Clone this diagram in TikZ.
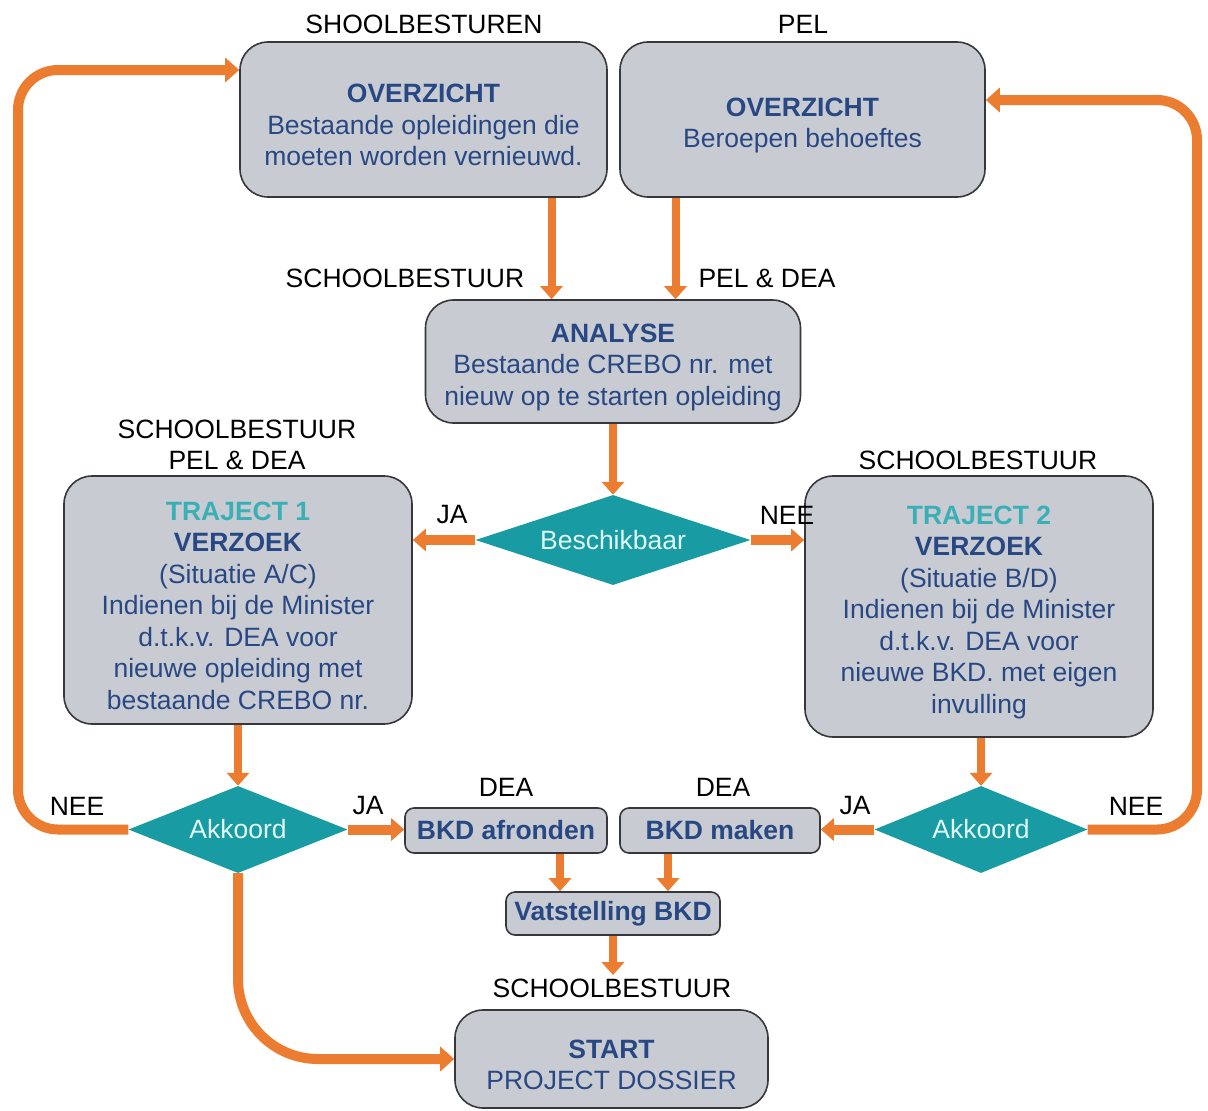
\documentclass[tikz,border=0pt]{standalone}
\usepackage{fontspec}
\setmainfont{Liberation Sans}
\usepackage{tikz}
\usetikzlibrary{arrows.meta,shapes,positioning}
\definecolor{flgrey}{RGB}{201,203,210}
\definecolor{flborder}{RGB}{55,55,60}
\definecolor{flblue}{RGB}{40,72,132}
\definecolor{flteal}{RGB}{58,176,182}
\definecolor{fldiamond}{RGB}{24,155,162}
\definecolor{fldtext}{RGB}{224,247,247}
\definecolor{florange}{RGB}{236,124,48}
\newcommand{\kop}[1]{\rule{0pt}{30pt}\textbf{#1}}
\tikzstyle{box} = [rectangle, rounded corners=28pt, draw=flborder, fill=flgrey, line width=1.6pt, text=flblue, align=center, inner sep=0pt]
\tikzstyle{smallbox} = [rectangle, rounded corners=9pt, draw=flborder, fill=flgrey, line width=1.6pt, text=flblue, inner sep=0pt]
\tikzstyle{decision} = [diamond, shape aspect=3, fill=fldiamond, text=fldtext, inner sep=0pt]
\tikzstyle{arrow} = [line width=8pt, florange, -{Triangle[width=22pt,length=13pt]}]
\tikzstyle{loopline} = [line width=10pt, florange, rounded corners=40pt, -{Triangle[width=24pt,length=14pt]}]

\begin{document}
\begin{tikzpicture}[x=1pt,y=-1pt,font=\fontsize{26.5}{31.5}\selectfont]
\useasboundingbox (0,0) rectangle (1208,1111);

% boxes
\node[box, minimum width=367, minimum height=155] (ovz1) at (423.5,119.5) {\kop{OVERZICHT}\\Bestaande opleidingen die\\moeten worden vernieuwd.};
\node[box, minimum width=365, minimum height=155] (ovz2) at (802.5,119.5) {\kop{OVERZICHT}\\Beroepen behoeftes};
\node[box, minimum width=375, minimum height=123] (ana) at (613,361.5) {\kop{ANALYSE}\\Bestaande CREBO nr. met\\nieuw op te starten opleiding};
\node[decision, minimum width=275, minimum height=90] (besch) at (613,540) {Beschikbaar};
\node[box, minimum width=348, minimum height=248] (traj1) at (238,600) {\textcolor{flteal}{\kop{TRAJECT 1}}\\\textbf{VERZOEK}\\(Situatie A/C)\\Indienen bij de Minister\\d.t.k.v. DEA voor\\nieuwe opleiding met\\bestaande CREBO nr.};
\node[box, minimum width=348, minimum height=261] (traj2) at (979,606.5) {\textcolor{flteal}{\kop{TRAJECT 2}}\\\textbf{VERZOEK}\\(Situatie B/D)\\Indienen bij de Minister\\d.t.k.v. DEA voor\\nieuwe BKD. met eigen\\invulling};
\node[decision, minimum width=219, minimum height=87] (akk1) at (238,829.5) {Akkoord};
\node[decision, minimum width=213, minimum height=87] (akk2) at (981,829.5) {Akkoord};
\node[smallbox, minimum width=202, minimum height=45] (bkd1) at (506,830.5) {\textbf{BKD afronden}};
\node[smallbox, minimum width=200, minimum height=45] (bkd2) at (720,830.5) {\textbf{BKD maken}};
\node[smallbox, minimum width=214, minimum height=43] (vast) at (613,913.5) {\textbf{Vatstelling BKD}};
\node[box, minimum width=313, minimum height=98] (start) at (611.5,1059) {\kop{START}\\PROJECT DOSSIER};

% wie
\node (w1) at (424,24) {SHOOLBESTUREN};
\node (w2) at (803,24) {PEL};
\node (w3) at (405,278) {SCHOOLBESTUUR};
\node (w4) at (767,278) {PEL \& DEA};
\node[align=center] (w5) at (237,445) {SCHOOLBESTUUR\\PEL \& DEA};
\node (w6) at (978,460) {SCHOOLBESTUUR};
\node (w7) at (506,787) {DEA};
\node (w8) at (723,787) {DEA};
\node (w9) at (612,988) {SCHOOLBESTUUR};

\node (ja1) at (452,515) {JA};
\node (nee1) at (787,515) {NEE};
\node (nee2) at (77,806) {NEE};
\node (ja2) at (368,806) {JA};
\node (ja3) at (855,806) {JA};
\node (nee3) at (1136,806) {NEE};

\coordinate (lnw) at (18,70);
\coordinate (lne) at (1197,100);

% pijlen
\draw[arrow] ([xshift=128]ovz1.south) -- ([xshift=128]ovz1.south |- ana.north);
\draw[arrow] ([xshift=-127]ovz2.south) -- ([xshift=-127]ovz2.south |- ana.north);
\draw[arrow] (ana.south) -- (ana.south |- besch.north);
\draw[arrow, line width=10pt] (besch.west) -- (besch.west -| traj1.east);
\draw[arrow, line width=10pt] (besch.east) -- (besch.east -| traj2.west);
\draw[arrow] (traj1.south) -- (akk1.north);
\draw[arrow] (traj2.south -| akk2.north) -- (akk2.north);
\draw[arrow, line width=10pt] (akk1.east) -- (akk1.east -| bkd1.west);
\draw[arrow, line width=10pt] (akk2.west) -- (akk2.west -| bkd2.east);
\draw[arrow] ([xshift=54]bkd1.south) -- ([xshift=54]bkd1.south |- vast.north);
\draw[arrow] ([xshift=-52]bkd2.south) -- ([xshift=-52]bkd2.south |- vast.north);
\draw[arrow] (vast.south) -- (vast.south |- w9.north);

\draw[loopline] (akk1.west) -| (lnw) -- (lnw -| ovz1.west);
\draw[loopline] (akk2.east) -| (lne) -- (lne -| ovz2.east);
\draw[loopline, rounded corners=80pt] (akk1.south) |- (start.west);
\end{tikzpicture}
\end{document}
